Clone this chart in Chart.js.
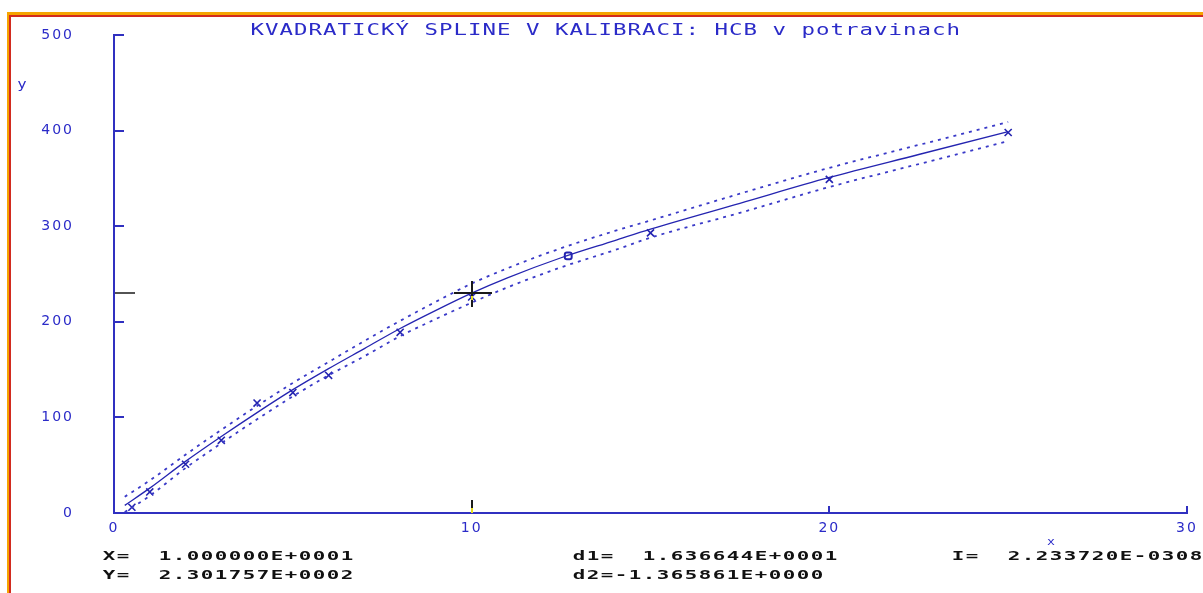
<!DOCTYPE html>
<html>
<head>
<meta charset="utf-8">
<title>Kvadraticky spline</title>
<script src="https://cdn.jsdelivr.net/npm/chart.js@4.4.1/dist/chart.umd.min.js"></script>
<style>
html, body { margin: 0; padding: 0; background: #fff; overflow: hidden; }
#frame { position: absolute; left: 7px; top: 12px; width: 1300px; height: 700px;
         border-top: 3px solid #f6a400; border-left: 2px solid #f6a400; }
#frame2 { width: 100%; height: 100%; border-top: 2px solid #d22b1f; border-left: 2px solid #d22b1f; }
#c { position: absolute; left: 0; top: 0; }
</style>
</head>
<body>
<div id="frame"><div id="frame2"></div></div>
<canvas id="c" width="1203" height="593"></canvas>
<script>
// fitted spline and its confidence band
var splineX = [0.3, 1, 2, 3, 4, 5, 6, 7, 8, 9, 10, 11, 12.5, 14, 15, 17.5, 20, 22.5, 25];
var splineY = [8, 26, 54, 80, 105, 129, 151, 172, 193, 212, 230, 246, 267, 285, 297, 324, 351, 375, 399];
var upperY  = [17, 34, 61, 87, 112, 136, 158, 180, 201, 221, 240, 256, 277, 295, 306, 334, 361, 385, 409];
var lowerY  = [1, 18, 47, 73, 98, 122, 144, 164, 185, 203, 220, 236, 257, 275, 288, 314, 341, 365, 389];

// calibration points
var measX = [0.5, 1, 2, 3, 4, 5, 6, 8, 10, 15, 20, 25];
var measY = [6, 22, 51, 76, 115, 126, 144, 189, 226, 293, 349, 398];

// estimated point
var estX = [12.7];
var estY = [269];

// cursor
var cursorX = 10;
var cursorY = 230.1757;

var xTicks = [0, 10, 20, 30];
var yTicks = [0, 100, 200, 300, 400, 500];

var titleText = 'KVADRATICKÝ SPLINE V KALIBRACI: HCB v potravinach';
var readout = ['X=  1.000000E+0001', 'Y=  2.301757E+0002',
               'd1=  1.636644E+0001', 'd2=-1.365861E+0000',
               'I=  2.233720E-0308'];

var textBlue = '#2b2bc8';
var axisBlue = '#3030c0';
var lineBlue = '#2424b0';

function pts(xs, ys) {
    return xs.map(function (x, i) { return { x: x, y: ys[i] }; });
}

// draws text on a fixed character grid, glyphs stretched sideways
function monoText(ctx, text, x0, y, adv, font, sx, color) {
    ctx.font = font;
    ctx.fillStyle = color;
    ctx.textAlign = 'center';
    ctx.textBaseline = 'alphabetic';
    for (var i = 0; i < text.length; i++) {
        ctx.save();
        ctx.translate(x0 + i * adv + adv / 2, y);
        ctx.scale(sx, 1);
        ctx.fillText(text[i], 0, 0);
        ctx.restore();
    }
}

function seg(ctx, x1, y1, x2, y2) {
    ctx.beginPath();
    ctx.moveTo(x1, y1);
    ctx.lineTo(x2, y2);
    ctx.stroke();
}

var decor = {
    id: 'decor',
    beforeDraw: function (chart) {
        chart.ctx.letterSpacing = '2px';
    },
    afterDraw: function (chart) {
        var ctx = chart.ctx, xs = chart.scales.x, ys = chart.scales.y, a = chart.chartArea;
        ctx.save();
        ctx.letterSpacing = '0px';

        // ticks pointing into the plot
        ctx.strokeStyle = axisBlue;
        ctx.lineWidth = 2;
        yTicks.forEach(function (v) {
            if (v === 0) return;
            var py = Math.round(ys.getPixelForValue(v));
            seg(ctx, a.left, py, a.left + 10, py);
        });
        xTicks.forEach(function (v) {
            if (v === 0 || v === cursorX) return;
            var px = Math.round(xs.getPixelForValue(v));
            seg(ctx, px, a.bottom, px, a.bottom - 7);
        });

        // cursor cross and its marks on the axes
        var cx = Math.round(xs.getPixelForValue(cursorX));
        var cy = Math.round(ys.getPixelForValue(cursorY));
        ctx.strokeStyle = '#1a1a1a';
        ctx.lineWidth = 2;
        seg(ctx, cx - 18, cy, cx + 20, cy);
        seg(ctx, cx, cy - 12, cx, cy + 14);
        ctx.lineWidth = 1.5;
        seg(ctx, a.left + 1, cy, a.left + 21, cy);
        ctx.lineWidth = 2;
        seg(ctx, cx, a.bottom - 13, cx, a.bottom - 5);
        ctx.strokeStyle = '#e8e020';
        seg(ctx, cx, a.bottom - 5, cx, a.bottom);
        seg(ctx, cx, cy + 3, cx, cy + 7);

        // title, axis names and readout
        monoText(ctx, titleText, 250, 35, 14.5, '16px "DejaVu Sans Mono"', 1.4, textBlue);
        monoText(ctx, 'y', 17, 88, 10, '13px "DejaVu Sans Mono"', 1.2, textBlue);
        monoText(ctx, 'x', 1046, 545, 10, '11px "DejaVu Sans Mono"', 1.2, textBlue);

        var f = 'bold 13px "DejaVu Sans Mono"';
        monoText(ctx, readout[0], 102, 560, 14, f, 1.6, '#111');
        monoText(ctx, readout[1], 102, 579, 14, f, 1.6, '#111');
        monoText(ctx, readout[2], 572, 560, 14, f, 1.6, '#111');
        monoText(ctx, readout[3], 572, 579, 14, f, 1.6, '#111');
        monoText(ctx, readout[4], 951, 560, 14, f, 1.6, '#111');
        ctx.restore();
    }
};

var tickFont = { family: '"DejaVu Sans"', size: 14 };

new Chart(document.getElementById('c'), {
    type: 'scatter',
    data: {
        datasets: [
            {
                data: pts(splineX, splineY), showLine: true, borderColor: lineBlue,
                borderWidth: 1.3, pointRadius: 0, cubicInterpolationMode: 'monotone'
            },
            {
                data: pts(splineX, upperY), showLine: true, borderColor: '#3a3ac8',
                borderWidth: 1.8, borderDash: [3, 5], pointRadius: 0, cubicInterpolationMode: 'monotone'
            },
            {
                data: pts(splineX, lowerY), showLine: true, borderColor: '#3a3ac8',
                borderWidth: 1.8, borderDash: [3, 5], pointRadius: 0, cubicInterpolationMode: 'monotone'
            },
            {
                data: pts(measX, measY), pointStyle: 'crossRot', pointRadius: 5,
                borderColor: lineBlue, borderWidth: 1.6
            },
            {
                data: pts(estX, estY), pointStyle: 'rectRounded', pointRadius: 4,
                borderColor: lineBlue, backgroundColor: '#fff', borderWidth: 2
            }
        ]
    },
    options: {
        responsive: false,
        animation: false,
        devicePixelRatio: 1,
        layout: { padding: { top: 35, right: 16, left: 0, bottom: 0 } },
        plugins: { legend: { display: false }, tooltip: { enabled: false } },
        scales: {
            x: {
                type: 'linear', min: 0, max: 30,
                afterBuildTicks: function (s) { s.ticks = xTicks.map(function (v) { return { value: v }; }); },
                afterFit: function (s) { s.height = 80; s.paddingLeft = 0; s.paddingRight = 0; },
                grid: { display: false, drawTicks: false },
                border: { display: true, color: axisBlue, width: 2 },
                ticks: { color: textBlue, font: tickFont, padding: 7, maxRotation: 0 }
            },
            y: {
                type: 'linear', min: 0, max: 500,
                afterBuildTicks: function (s) { s.ticks = yTicks.map(function (v) { return { value: v }; }); },
                afterFit: function (s) { s.width = 114; s.paddingTop = 0; s.paddingBottom = 0; },
                grid: { display: false, drawTicks: false },
                border: { display: true, color: axisBlue, width: 2 },
                ticks: { color: textBlue, font: tickFont, padding: 40 }
            }
        }
    },
    plugins: [decor]
});
</script>
</body>
</html>
